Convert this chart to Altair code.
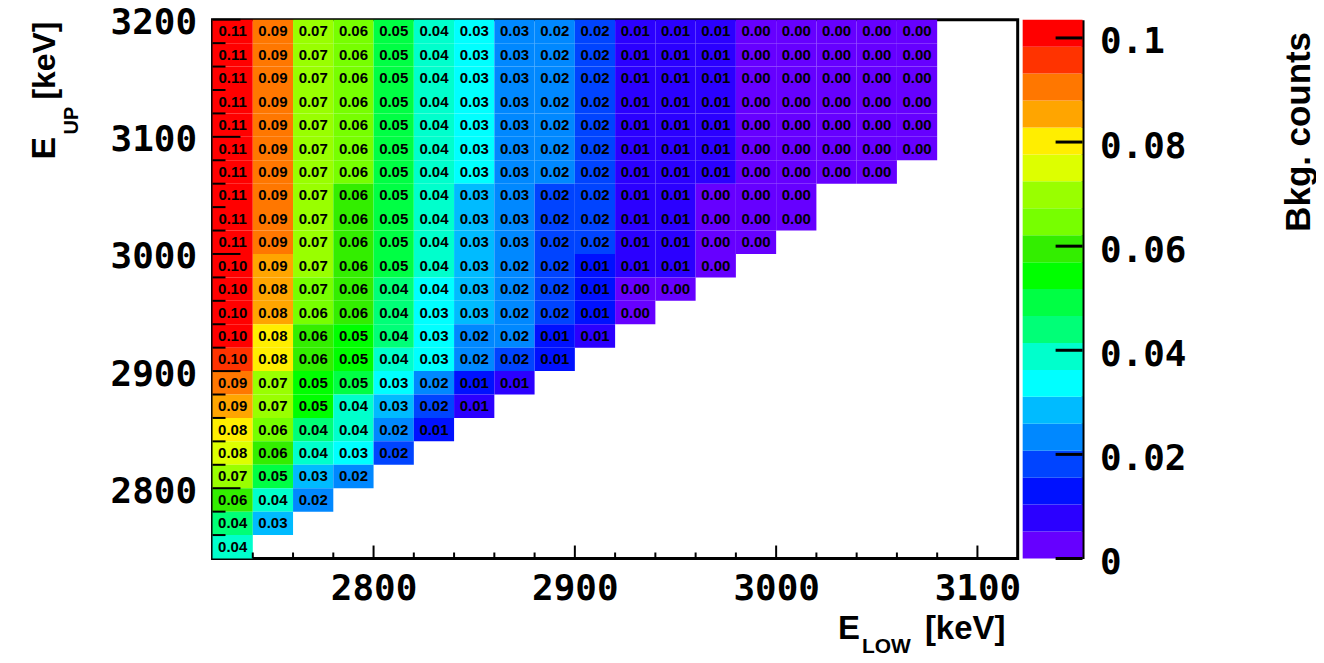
import altair as alt
import pandas as pd

# ---------------- data ----------------
# lower edges of the E_LOW bins (20 keV wide)
e_low_bins = [2720, 2740, 2760, 2780, 2800, 2820, 2840, 2860, 2880,
              2900, 2920, 2940, 2960, 2980, 3000, 3020, 3040, 3060]
# lower edges of the E_UP bins, top row first (20 keV wide)
e_up_bins = [3180, 3160, 3140, 3120, 3100, 3080, 3060, 3040, 3020, 3000,
             2980, 2960, 2940, 2920, 2900, 2880, 2860, 2840, 2820, 2800,
             2780, 2760, 2740]
# background counts per E_UP row (top row first), one value per E_LOW bin
bkg_rows = [
    [0.110, 0.092, 0.071, 0.063, 0.050, 0.040, 0.034, 0.0257, 0.023, 0.018, 0.009, 0.008, 0.006, 0.004, 0.003, 0.002, 0.002, 0.001],
    [0.110, 0.092, 0.071, 0.063, 0.050, 0.040, 0.034, 0.0257, 0.023, 0.018, 0.009, 0.008, 0.006, 0.004, 0.003, 0.002, 0.002, 0.001],
    [0.110, 0.092, 0.071, 0.063, 0.050, 0.040, 0.034, 0.0257, 0.023, 0.018, 0.009, 0.008, 0.006, 0.004, 0.003, 0.002, 0.002, 0.001],
    [0.110, 0.092, 0.071, 0.063, 0.050, 0.040, 0.034, 0.0257, 0.023, 0.018, 0.009, 0.008, 0.006, 0.004, 0.003, 0.002, 0.002, 0.001],
    [0.110, 0.091, 0.071, 0.063, 0.050, 0.040, 0.033, 0.0257, 0.023, 0.018, 0.009, 0.008, 0.006, 0.004, 0.003, 0.002, 0.002, 0.001],
    [0.109, 0.091, 0.070, 0.063, 0.050, 0.040, 0.033, 0.0256, 0.023, 0.018, 0.009, 0.008, 0.006, 0.004, 0.003, 0.002, 0.002, 0.001],
    [0.109, 0.091, 0.070, 0.063, 0.049, 0.039, 0.033, 0.0256, 0.022, 0.018, 0.008, 0.008, 0.006, 0.004, 0.003, 0.002, 0.002],
    [0.108, 0.091, 0.069, 0.060, 0.049, 0.039, 0.029, 0.0255, 0.019, 0.018, 0.008, 0.007, 0.003, 0.003, 0.002],
    [0.108, 0.091, 0.069, 0.060, 0.049, 0.039, 0.029, 0.0255, 0.019, 0.018, 0.008, 0.007, 0.003, 0.003, 0.002],
    [0.107, 0.090, 0.069, 0.059, 0.048, 0.038, 0.028, 0.0253, 0.018, 0.017, 0.008, 0.007, 0.003, 0.002],
    [0.1025, 0.086, 0.068, 0.058, 0.047, 0.038, 0.028, 0.023, 0.019, 0.013, 0.008, 0.007, 0.003],
    [0.102, 0.084, 0.066, 0.058, 0.044, 0.0357, 0.027, 0.023, 0.018, 0.013, 0.004, 0.003],
    [0.101, 0.083, 0.063, 0.057, 0.043, 0.033, 0.026, 0.021, 0.017, 0.012, 0.003],
    [0.100, 0.080, 0.059, 0.054, 0.042, 0.033, 0.024, 0.021, 0.014, 0.008],
    [0.096, 0.078, 0.058, 0.053, 0.041, 0.032, 0.022, 0.0205, 0.013],
    [0.091, 0.071, 0.053, 0.049, 0.034, 0.023, 0.013, 0.008],
    [0.086, 0.068, 0.052, 0.040, 0.029, 0.019, 0.009],
    [0.080, 0.063, 0.044, 0.038, 0.024, 0.013],
    [0.076, 0.058, 0.040, 0.033, 0.019],
    [0.069, 0.050, 0.029, 0.024],
    [0.059, 0.039, 0.023],
    [0.044, 0.029],
    [0.038],
]
bin_width = 20
# colour palette (20 contour levels, low to high) and its range
palette = ["#6600FF", "#2B00FF", "#0011FF", "#0044FF", "#0088FF",
           "#00BBFF", "#00FFFF", "#00FFCC", "#00FF77", "#00FF44",
           "#00FF00", "#33EE00", "#77FF00", "#99FF00", "#DDFF00",
           "#FFEE00", "#FFA500", "#FF7700", "#FF3300", "#FF0000"]
z_max = 0.1035
x_tick_labels = [2800, 2900, 3000, 3100]
y_tick_labels = [2800, 2900, 3000, 3100, 3200]
z_tick_labels = [0, 0.02, 0.04, 0.06, 0.08, 0.1]

# ---------------- tables ----------------
cells = []
for eup, vals in zip(e_up_bins, bkg_rows):
    for c, v in enumerate(vals):
        lo = e_low_bins[c]
        cells.append({"elow": lo, "elow_hi": lo + bin_width,
                      "elow_mid": lo + bin_width / 2,
                      "eup": eup, "eup_hi": eup + bin_width,
                      "eup_mid": eup + bin_width / 2, "value": v})
cells = pd.DataFrame(cells)

x_min, x_max = 2720, 3120
y_min, y_max = 2740, 3200
x_minor = pd.DataFrame({"t": [t for t in range(x_min + 20, x_max, 20) if t % 100 != 0]})
x_major = pd.DataFrame({"t": x_tick_labels})
y_minor = pd.DataFrame({"t": [t for t in range(y_min + 20, y_max, 20) if t % 100 != 0]})
y_major = pd.DataFrame({"t": y_tick_labels})

n_bands = len(palette)
bands = pd.DataFrame({
    "lo": [z_max * i / n_bands for i in range(n_bands)],
    "hi": [z_max * (i + 1) / n_bands for i in range(n_bands)],
})
bands["mid"] = (bands["lo"] + bands["hi"]) / 2
z_ticks = pd.DataFrame({"t": z_tick_labels})

W, H = 807, 540
CB_W = 60
MONO = "DejaVu Sans Mono"
SANS = "Liberation Sans"

color_scale = alt.Scale(type="quantize", domain=[0, z_max], range=palette, nice=False)
xscale = alt.Scale(domain=[x_min, x_max], nice=False, zero=False)
yscale = alt.Scale(domain=[y_min, y_max], nice=False, zero=False)

x_axis = alt.Axis(values=x_tick_labels, format="d", labelFont=MONO, labelFontWeight="bold",
                  labelFontSize=36, labelColor="black", ticks=False, domain=False,
                  grid=False, labelPadding=13, labelFlush=False, labelOverlap=False,
                  title=None)
y_axis = alt.Axis(values=y_tick_labels, format="d", labelFont=MONO, labelFontWeight="bold",
                  labelFontSize=36, labelColor="black", ticks=False, domain=False,
                  grid=False, labelPadding=16, labelOffset=3, labelFlush=False,
                  labelOverlap=False, title=None)

rects = alt.Chart(cells).mark_rect(strokeWidth=0).encode(
    x=alt.X("elow:Q", scale=xscale, axis=x_axis),
    x2="elow_hi:Q",
    y=alt.Y("eup:Q", scale=yscale, axis=y_axis),
    y2="eup_hi:Q",
    color=alt.Color("value:Q", scale=color_scale, legend=None),
)
labels = alt.Chart(cells).mark_text(font=SANS, fontWeight="bold", fontSize=15,
                                    color="black", baseline="middle", align="center").encode(
    x=alt.X("elow_mid:Q", scale=xscale, axis=x_axis),
    y=alt.Y("eup_mid:Q", scale=yscale, axis=y_axis),
    text=alt.Text("value:Q", format=".2f"),
)


def xticks(df, length):
    return alt.Chart(df).mark_rule(color="black", strokeWidth=2).encode(
        x=alt.X("t:Q", scale=xscale, axis=x_axis),
        y=alt.value(H), y2=alt.value(H - length))


def yticks(df, length):
    return alt.Chart(df).mark_rule(color="black", strokeWidth=2).encode(
        y=alt.Y("t:Q", scale=yscale, axis=y_axis),
        x=alt.value(0), x2=alt.value(length))


def label(text, x, y, size, angle=0):
    kw = dict(text=text, font=SANS, fontWeight="bold", fontSize=size,
              color="black", align="left", baseline="alphabetic")
    if angle:
        kw["angle"] = angle
    return alt.Chart(alt.Data(values=[{}])).mark_text(**kw).encode(
        x=alt.value(x), y=alt.value(y))


main = alt.layer(
    rects, labels,
    xticks(x_minor, 6), xticks(x_major, 13),
    yticks(y_minor, 13), yticks(y_major, 28),
    label("E", 627, 621, 33), label("LOW", 651, 635, 21), label("[keV]", 714, 621, 33),
    label("E", -158, 140, 34, 270), label("UP", -135, 115, 20, 270),
    label("[keV]", -158, 80, 32, 270),
).properties(width=W, height=H,
             view=alt.ViewBackground(stroke="black", strokeWidth=3))

cb_axis = alt.Axis(values=z_tick_labels, format=".2~f", orient="right",
                   labelFont=MONO, labelFontWeight="bold", labelFontSize=36,
                   labelColor="black", ticks=False, domain=True, domainColor="black",
                   domainWidth=3, grid=False, labelPadding=17, labelOffset=4,
                   labelFlush=False, labelOverlap=False,
                   title="Bkg. counts", titleFont=SANS, titleFontWeight="bold",
                   titleFontSize=35, titleColor="black", titleAngle=270,
                   titleAlign="left", titleBaseline="middle", titleX=216, titleY=212)
zscale = alt.Scale(domain=[0, z_max], nice=False, zero=False)

cb_rects = alt.Chart(bands).mark_rect(strokeWidth=0).encode(
    x=alt.value(0), x2=alt.value(CB_W),
    y=alt.Y("lo:Q", scale=zscale, axis=cb_axis),
    y2="hi:Q",
    color=alt.Color("mid:Q", scale=color_scale, legend=None),
)
cb_ticks = alt.Chart(z_ticks).mark_rule(color="black", strokeWidth=3).encode(
    y=alt.Y("t:Q", scale=zscale, axis=cb_axis),
    x=alt.value(CB_W - 27), x2=alt.value(CB_W),
)
cbar = alt.layer(cb_rects, cb_ticks).properties(width=CB_W, height=H)

chart = alt.hconcat(main, cbar, spacing=5, bounds="flush").resolve_scale(
    color="shared", x="independent", y="independent"
).properties(
    padding={"left": 18, "top": -6, "right": 0, "bottom": 0},
    background="white",
).configure_view(strokeWidth=0)

chart.save("out.html", embed_options={"renderer": "svg", "actions": False})
